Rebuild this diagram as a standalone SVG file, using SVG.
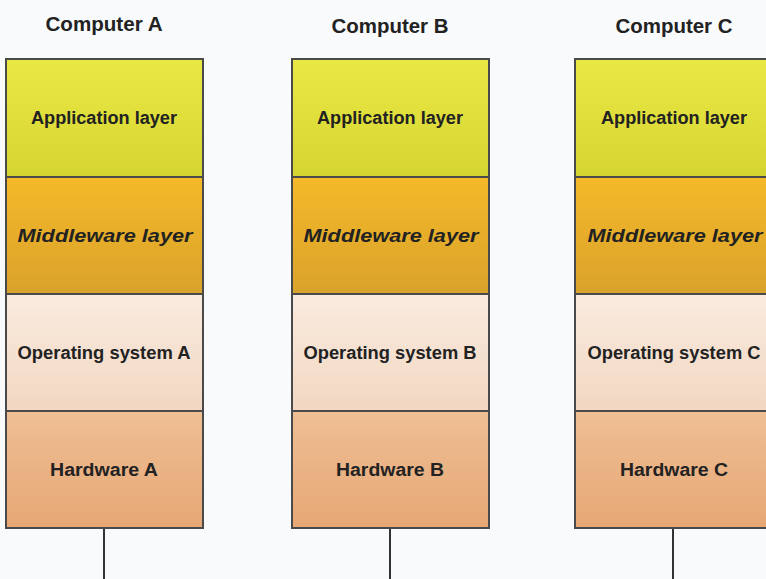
<svg xmlns="http://www.w3.org/2000/svg" width="766" height="579" viewBox="0 0 766 579">
<defs>
<linearGradient id="gApp" x1="0" y1="0" x2="0" y2="1"><stop offset="0" stop-color="#eae845"/><stop offset="1" stop-color="#d5d531"/></linearGradient>
<linearGradient id="gMid" x1="0" y1="0" x2="0" y2="1"><stop offset="0" stop-color="#f5b929"/><stop offset="1" stop-color="#d9a22b"/></linearGradient>
<linearGradient id="gOs" x1="0" y1="0" x2="0" y2="1"><stop offset="0" stop-color="#f9ebdf"/><stop offset="1" stop-color="#f2d7c2"/></linearGradient>
<linearGradient id="gHw" x1="0" y1="0" x2="0" y2="1"><stop offset="0" stop-color="#eebf95"/><stop offset="1" stop-color="#e7a775"/></linearGradient>
</defs>
<style>
.layer{stroke:#4a4a4a;stroke-width:2}
.app{fill:url(#gApp)}
.mid{fill:url(#gMid)}
.os{fill:url(#gOs)}
.hw{fill:url(#gHw)}
.t{font-family:"Liberation Sans",Arial,sans-serif;font-weight:bold;font-size:18px;fill:#222;text-anchor:middle}
.it{font-style:italic}
.title{font-family:"Liberation Sans",Arial,sans-serif;font-weight:bold;font-size:20px;fill:#222;text-anchor:middle}
.conn{stroke:#333;stroke-width:2;fill:none}
</style>
<rect width="766" height="579" fill="#f9fafc"/>
<g id="connectors">
<line class="conn" x1="104" y1="528" x2="104" y2="579"/>
<line class="conn" x1="390" y1="528" x2="390" y2="579"/>
<line class="conn" x1="673" y1="528" x2="673" y2="579"/>
</g>
<g id="computerA">
<text class="title" x="104" y="31" textLength="117" lengthAdjust="spacingAndGlyphs">Computer A</text>
<g id="appA"><rect class="layer app" x="6" y="59" width="197" height="118"/><text class="t" x="104" y="124" textLength="146" lengthAdjust="spacingAndGlyphs">Application layer</text></g>
<g id="midA"><rect class="layer mid" x="6" y="177" width="197" height="117"/><text class="t it" x="105" y="242" textLength="175" lengthAdjust="spacingAndGlyphs">Middleware layer</text></g>
<g id="osA"><rect class="layer os" x="6" y="294" width="197" height="117"/><text class="t" x="104" y="359" textLength="173" lengthAdjust="spacingAndGlyphs">Operating system A</text></g>
<g id="hwA"><rect class="layer hw" x="6" y="411" width="197" height="117"/><text class="t" x="104" y="476" textLength="108" lengthAdjust="spacingAndGlyphs">Hardware A</text></g>
</g>
<g id="computerB">
<text class="title" x="390" y="33" textLength="117" lengthAdjust="spacingAndGlyphs">Computer B</text>
<g id="appB"><rect class="layer app" x="292" y="59" width="197" height="118"/><text class="t" x="390" y="124" textLength="146" lengthAdjust="spacingAndGlyphs">Application layer</text></g>
<g id="midB"><rect class="layer mid" x="292" y="177" width="197" height="117"/><text class="t it" x="391" y="242" textLength="175" lengthAdjust="spacingAndGlyphs">Middleware layer</text></g>
<g id="osB"><rect class="layer os" x="292" y="294" width="197" height="117"/><text class="t" x="390" y="359" textLength="173" lengthAdjust="spacingAndGlyphs">Operating system B</text></g>
<g id="hwB"><rect class="layer hw" x="292" y="411" width="197" height="117"/><text class="t" x="390" y="476" textLength="108" lengthAdjust="spacingAndGlyphs">Hardware B</text></g>
</g>
<g id="computerC">
<text class="title" x="674" y="33" textLength="117" lengthAdjust="spacingAndGlyphs">Computer C</text>
<g id="appC"><rect class="layer app" x="575" y="59" width="197" height="118"/><text class="t" x="674" y="124" textLength="146" lengthAdjust="spacingAndGlyphs">Application layer</text></g>
<g id="midC"><rect class="layer mid" x="575" y="177" width="197" height="117"/><text class="t it" x="675" y="242" textLength="175" lengthAdjust="spacingAndGlyphs">Middleware layer</text></g>
<g id="osC"><rect class="layer os" x="575" y="294" width="197" height="117"/><text class="t" x="674" y="359" textLength="173" lengthAdjust="spacingAndGlyphs">Operating system C</text></g>
<g id="hwC"><rect class="layer hw" x="575" y="411" width="197" height="117"/><text class="t" x="674" y="476" textLength="108" lengthAdjust="spacingAndGlyphs">Hardware C</text></g>
</g>
</svg>
